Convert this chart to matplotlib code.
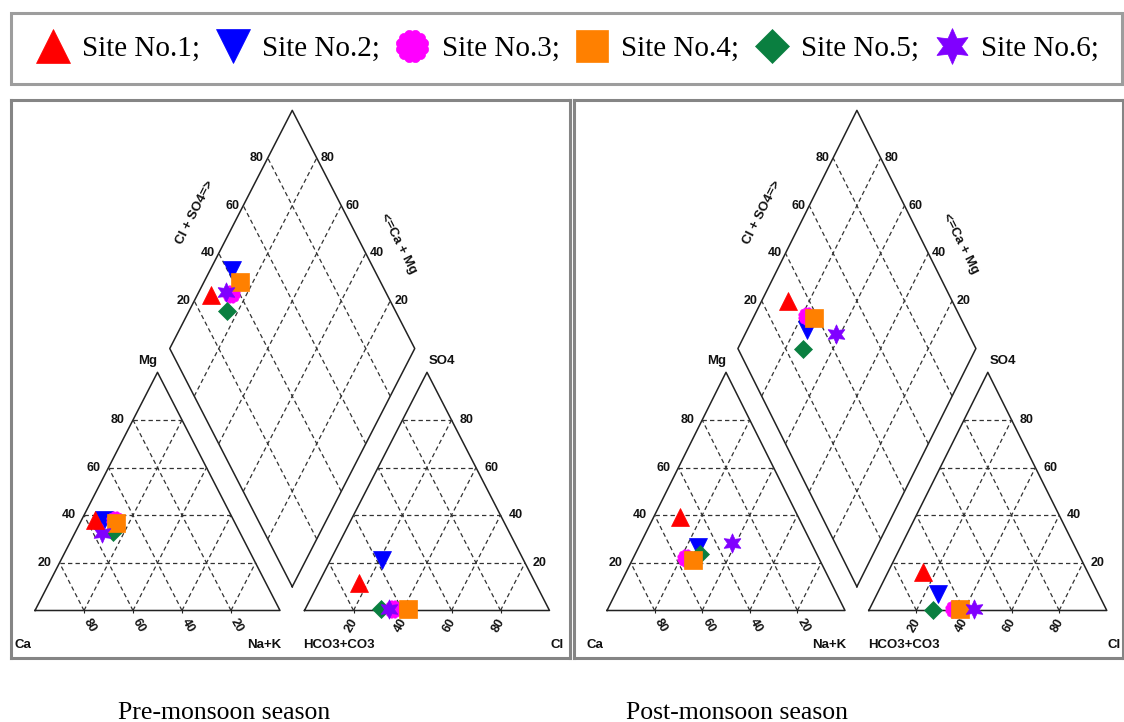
import numpy as np
import matplotlib
matplotlib.use("Agg")
import matplotlib.pyplot as plt

# ---------------- data (percent of meq) ----------------
sites = ["Site No.1;", "Site No.2;", "Site No.3;", "Site No.4;", "Site No.5;", "Site No.6;"]
colors = ["#ff0000", "#0000ff", "#ff00ff", "#ff8000", "#0a7f40", "#8000ff"]

pre_ca = [56.4, 53.0, 48.5, 48.7, 51.5, 56.5]
pre_mg = [38.0, 38.0, 38.0, 36.8, 33.0, 32.4]
pre_nak = [5.6, 9.0, 13.5, 14.5, 15.5, 11.1]
pre_hco3 = [71.9, 57.9, 63.5, 57.5, 68.7, 65.3]
pre_so4 = [11.5, 21.1, 0.5, 0.5, 0.5, 0.5]
pre_cl = [16.6, 21.0, 36.0, 42.0, 30.8, 34.2]

post_ca = [49.6, 48.3, 55.6, 53.2, 49.0, 33.3]
post_mg = [39.4, 26.7, 22.1, 21.1, 23.6, 28.4]
post_nak = [11.0, 25.0, 22.3, 25.7, 27.4, 38.3]
post_hco3 = [69.2, 67.3, 64.0, 61.5, 72.8, 55.5]
post_so4 = [16.2, 7.0, 0.5, 0.5, 0.3, 0.5]
post_cl = [14.6, 25.7, 35.5, 38.0, 26.9, 44.0]

grid_vals = [20, 40, 60, 80]
seasons = ["Pre-monsoon season", "Post-monsoon season"]

# ---------------- marker styles ----------------
th = np.linspace(0, 2 * np.pi, 241)
rr = 0.92 + 0.08 * np.abs(np.sin(6 * th))
scallop = np.column_stack([rr * np.sin(th), rr * np.cos(th)])
markers = ["^", "v", scallop, "s", "D", (6, 1, 0)]
msizes = [13, 13, 12.5, 12.5, 9.5, 14]

W, H = 1124, 722
fig = plt.figure(figsize=(W / 100, H / 100), dpi=100)

S3 = np.sqrt(3) / 2
G = 0.1
FRAME = "#858585"
LINEC = "#222222"
DASH = dict(color="#333333", lw=0.9, dashes=(3.5, 2.5))
LBL = dict(family="Liberation Sans", weight="bold", size=9, color="#111111")


def panel(rect, ox, sx, oy, sy, ca, mg, nak, hco3, so4, cl):
    x0, y0, x1, y1 = rect
    ax = fig.add_axes([x0 / W, 1 - y1 / H, (x1 - x0) / W, (y1 - y0) / H])
    ax.set_xlim((x0 - ox) / sx, (x1 - ox) / sx)
    ax.set_ylim((oy - y1) / sy, (oy - y0) / sy)
    ax.set_xticks([])
    ax.set_yticks([])
    for sp in ax.spines.values():
        sp.set_color(FRAME)
        sp.set_linewidth(2.2)

    # outlines
    ax.plot([0, 1, 0.5, 0], [0, 0, S3, 0], color=LINEC, lw=1.1)
    a0 = 1 + G
    ax.plot([a0, a0 + 1, a0 + 0.5, a0], [0, 0, S3, 0], color=LINEC, lw=1.1)
    B = np.array([1 + G / 2, G * S3])
    L = B + np.array([-0.5, S3])
    R = B + np.array([0.5, S3])
    T = B + np.array([0, 2 * S3])
    dm = np.array([B, L, T, R, B])
    ax.plot(dm[:, 0], dm[:, 1], color=LINEC, lw=1.1)

    # triangle grids
    for off in (0, a0):
        for gv in grid_vals:
            v = gv / 100
            ax.plot([off + v / 2, off + 1 - v / 2], [v * S3, v * S3], **DASH)
            ax.plot([off + v, off + (1 + v) / 2], [0, (1 - v) * S3], **DASH)
            ax.plot([off + v, off + v / 2], [0, v * S3], **DASH)
    # diamond grid
    for gv in grid_vals:
        v = gv / 100
        P = B + v * (L - B)
        Q = P + (R - B)
        ax.plot([P[0], Q[0]], [P[1], Q[1]], **DASH)
        P = B + v * (R - B)
        Q = P + (L - B)
        ax.plot([P[0], Q[0]], [P[1], Q[1]], **DASH)

    # tick labels
    for gv in grid_vals:
        v = gv / 100
        ax.annotate(str(gv), (v / 2, v * S3), xytext=(-15, 0), textcoords="offset pixels",
                    ha="center", va="center", **LBL)
        ax.annotate(str(100 - gv), (v, 0), xytext=(6, -15), textcoords="offset pixels",
                    ha="center", va="center", rotation=-60, **LBL)
        ax.annotate(str(gv), (a0 + 1 - v / 2, v * S3), xytext=(15, 0), textcoords="offset pixels",
                    ha="center", va="center", **LBL)
        ax.annotate(str(gv), (a0 + v, 0), xytext=(-2, -15), textcoords="offset pixels",
                    ha="center", va="center", rotation=60, **LBL)
        P = L + v * (T - L)
        ax.annotate(str(gv), P, xytext=(-11, 0), textcoords="offset pixels",
                    ha="center", va="center", **LBL)
        P = R + v * (T - R)
        ax.annotate(str(gv), P, xytext=(11, 0), textcoords="offset pixels",
                    ha="center", va="center", **LBL)

    for gv in grid_vals:
        v = gv / 100
        ax.plot([v, a0 + v], [0, 0], ls="none", marker="|", ms=2.5, color=LINEC, mew=0.8)

    CL = dict(LBL, size=9.5)
    ax.annotate("Mg", (0.5, S3), xytext=(0, 11), textcoords="offset pixels", ha="right", va="center", **CL)
    ax.annotate("SO4", (a0 + 0.5, S3), xytext=(2, 11), textcoords="offset pixels", ha="left", va="center", **CL)
    ax.annotate("Ca", (0, 0), xytext=(-12, -35), textcoords="offset pixels", ha="center", va="center", **CL)
    ax.annotate("Na+K", (1, 0), xytext=(1, -35), textcoords="offset pixels", ha="right", va="center", **CL)
    ax.annotate("HCO3+CO3", (a0, 0), xytext=(-1, -35), textcoords="offset pixels", ha="left", va="center", **CL)
    ax.annotate("Cl", (a0 + 1, 0), xytext=(1, -35), textcoords="offset pixels", ha="left", va="center", **CL)
    P = L + 0.57 * (T - L)
    ax.annotate("Cl + SO4=>", P, xytext=(-44, 0), textcoords="offset pixels", ha="center", va="center",
                rotation=63, rotation_mode="anchor", **CL)
    P = R + 0.44 * (T - R)
    ax.annotate("<=Ca + Mg", P, xytext=(37, 0), textcoords="offset pixels", ha="center", va="center",
                rotation=-63, rotation_mode="anchor", **CL)

    handles = []
    order = [1, 2, 4, 3, 5, 0]
    for i in order:
        tc = ca[i] + mg[i] + nak[i]
        ta = hco3[i] + so4[i] + cl[i]
        fmg, fnak = mg[i] / tc, nak[i] / tc
        fso4, fcl = so4[i] / ta, cl[i] / ta
        cx, cy = fnak + fmg / 2, fmg * S3
        axx, ayy = a0 + fcl + fso4 / 2, fso4 * S3
        t = (axx - cx) + (ayy - cy) / (2 * S3)
        dx, dy = cx + 0.5 * t, cy + S3 * t
        h, = ax.plot([cx, axx, dx], [cy, ayy, dy], ls="none", marker=markers[i], ms=msizes[i],
                     color=colors[i], mec=colors[i], mew=0.5, zorder=5 + (3 if i == 0 else 0))
        handles.append((i, h))
    handles.sort(key=lambda p: p[0])
    return ax, [h for _, h in handles]


axL, hs = panel((11, 100, 570, 658), 35, 245, 610.5, 275,
                pre_ca, pre_mg, pre_nak, pre_hco3, pre_so4, pre_cl)
axR, _ = panel((574, 100, 1123, 658), 607, 238, 610.5, 275,
               post_ca, post_mg, post_nak, post_hco3, post_so4, post_cl)

leg = fig.legend(hs, sites, loc="center", bbox_to_anchor=(11 / W, 1 - 85 / H, 1111 / W, 73 / H),
                 mode="expand", ncol=6, frameon=True, fancybox=False, edgecolor=FRAME,
                 borderpad=0.78, borderaxespad=0, handlelength=1.3, handletextpad=0.35,
                 columnspacing=0.6, markerscale=1.85,
                 prop={"family": "Liberation Serif", "size": 21})
leg.get_frame().set_linewidth(2.2)

fig.text(224 / W, 1 - 713 / H, seasons[0], ha="center", va="center",
         family="Liberation Serif", size=18.5)
fig.text(737 / W, 1 - 713 / H, seasons[1], ha="center", va="center",
         family="Liberation Serif", size=18.5)

fig.savefig("out.png", dpi=100)
